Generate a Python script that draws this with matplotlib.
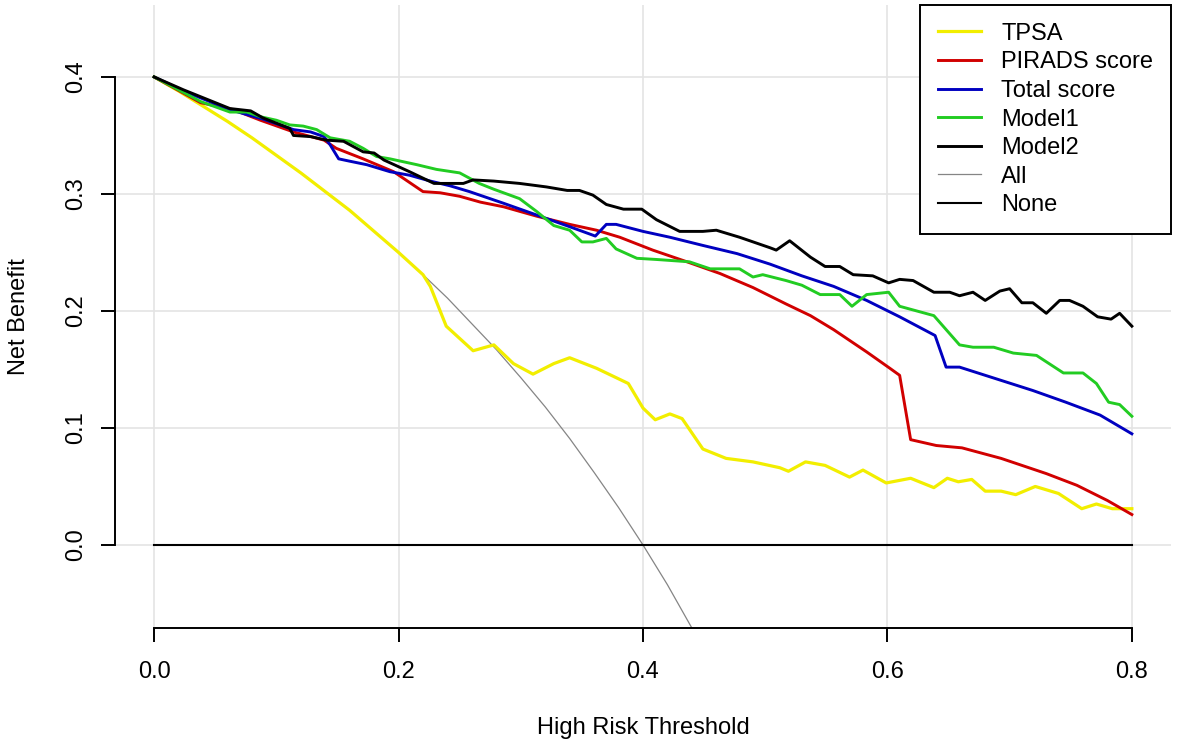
import numpy as np
import matplotlib.pyplot as plt

plt.rcParams['font.family'] = ['Liberation Sans', 'DejaVu Sans']

# values
tpsa_x = [0.0, 0.02, 0.04, 0.06, 0.08, 0.10, 0.12, 0.14, 0.16, 0.18, 0.20, 0.22, 0.226,
          0.239, 0.261, 0.278, 0.294, 0.310, 0.327, 0.340, 0.362, 0.388, 0.400,
          0.410, 0.422, 0.432, 0.449, 0.468, 0.490, 0.512, 0.519, 0.533, 0.549,
          0.569, 0.580, 0.599, 0.619, 0.638, 0.649, 0.658, 0.669, 0.680, 0.693,
          0.705, 0.721, 0.740, 0.759, 0.771, 0.784, 0.800]
tpsa_y = [0.400, 0.388, 0.375, 0.362, 0.348, 0.333, 0.318, 0.302, 0.286, 0.268, 0.250, 0.231, 0.221,
          0.187, 0.166, 0.171, 0.155, 0.146, 0.155, 0.160, 0.151, 0.138, 0.117,
          0.107, 0.112, 0.108, 0.082, 0.074, 0.071, 0.066, 0.063, 0.071, 0.068,
          0.058, 0.064, 0.053, 0.057, 0.049, 0.057, 0.054, 0.056, 0.046, 0.046,
          0.043, 0.050, 0.044, 0.031, 0.035, 0.031, 0.031]

pirads_x = [0.0, 0.038, 0.065, 0.087, 0.114, 0.139, 0.149, 0.171, 0.196, 0.220, 0.234,
            0.250, 0.267, 0.286, 0.313, 0.340, 0.362, 0.381, 0.408, 0.436, 0.463,
            0.490, 0.517, 0.537, 0.556, 0.583, 0.602, 0.610, 0.619, 0.640, 0.661,
            0.693, 0.730, 0.755, 0.780, 0.800]
pirads_y = [0.400, 0.378, 0.372, 0.363, 0.353, 0.346, 0.339, 0.330, 0.319, 0.302, 0.301,
            0.298, 0.293, 0.289, 0.281, 0.274, 0.269, 0.263, 0.252, 0.242, 0.232,
            0.220, 0.206, 0.196, 0.184, 0.165, 0.151, 0.145, 0.090, 0.085, 0.083,
            0.074, 0.061, 0.051, 0.038, 0.026]

total_x = [0.0, 0.024, 0.062, 0.089, 0.114, 0.128, 0.139, 0.144, 0.151, 0.160, 0.174,
           0.193, 0.209, 0.226, 0.242, 0.258, 0.286, 0.313, 0.340, 0.361, 0.370,
           0.378, 0.400, 0.422, 0.449, 0.477, 0.504, 0.530, 0.556, 0.583, 0.610,
           0.639, 0.648, 0.659, 0.692, 0.719, 0.746, 0.774, 0.800]
total_y = [0.400, 0.388, 0.372, 0.364, 0.355, 0.353, 0.349, 0.342, 0.330, 0.328, 0.325,
           0.319, 0.316, 0.311, 0.307, 0.302, 0.292, 0.282, 0.272, 0.264, 0.274,
           0.274, 0.268, 0.263, 0.256, 0.249, 0.240, 0.230, 0.221, 0.209, 0.195,
           0.179, 0.152, 0.152, 0.141, 0.132, 0.122, 0.111, 0.095]

model1_x = [0.0, 0.038, 0.062, 0.076, 0.087, 0.100, 0.111, 0.122, 0.133, 0.144, 0.160,
            0.171, 0.182, 0.193, 0.215, 0.231, 0.250, 0.266, 0.278, 0.299, 0.313,
            0.327, 0.340, 0.350, 0.359, 0.370, 0.378, 0.395, 0.411, 0.438, 0.455,
            0.479, 0.490, 0.498, 0.517, 0.530, 0.545, 0.561, 0.571, 0.583, 0.601,
            0.610, 0.638, 0.659, 0.670, 0.687, 0.703, 0.722, 0.744, 0.760, 0.771,
            0.781, 0.790, 0.800]
model1_y = [0.400, 0.379, 0.370, 0.370, 0.366, 0.363, 0.359, 0.358, 0.355, 0.348, 0.345,
            0.339, 0.332, 0.330, 0.325, 0.321, 0.318, 0.309, 0.304, 0.296, 0.285,
            0.273, 0.269, 0.259, 0.259, 0.262, 0.253, 0.245, 0.244, 0.242, 0.236,
            0.236, 0.229, 0.231, 0.226, 0.222, 0.214, 0.214, 0.204, 0.214, 0.216,
            0.204, 0.196, 0.171, 0.169, 0.169, 0.164, 0.162, 0.147, 0.147, 0.138,
            0.122, 0.120, 0.110]

model2_x = [0.0, 0.024, 0.062, 0.079, 0.089, 0.111, 0.114, 0.128, 0.141, 0.155, 0.171,
            0.180, 0.188, 0.209, 0.229, 0.253, 0.261, 0.278, 0.299, 0.321, 0.338,
            0.348, 0.359, 0.370, 0.384, 0.399, 0.411, 0.430, 0.449, 0.460, 0.479,
            0.504, 0.509, 0.520, 0.537, 0.549, 0.561, 0.572, 0.588, 0.601, 0.610,
            0.621, 0.638, 0.651, 0.659, 0.670, 0.680, 0.692, 0.700, 0.710, 0.719,
            0.730, 0.741, 0.749, 0.760, 0.772, 0.783, 0.790, 0.800]
model2_y = [0.400, 0.389, 0.373, 0.371, 0.365, 0.356, 0.350, 0.349, 0.346, 0.345, 0.336,
            0.335, 0.329, 0.319, 0.309, 0.309, 0.312, 0.311, 0.309, 0.306, 0.303,
            0.303, 0.299, 0.291, 0.287, 0.287, 0.278, 0.268, 0.268, 0.269, 0.263,
            0.254, 0.252, 0.260, 0.246, 0.238, 0.238, 0.231, 0.230, 0.224, 0.227,
            0.226, 0.216, 0.216, 0.213, 0.216, 0.209, 0.217, 0.219, 0.207, 0.207,
            0.198, 0.209, 0.209, 0.204, 0.195, 0.193, 0.198, 0.187]

all_x = [0.0, 0.02, 0.04, 0.06, 0.08, 0.10, 0.12, 0.14, 0.16, 0.18, 0.20, 0.22,
         0.24, 0.26, 0.28, 0.30, 0.32, 0.34, 0.36, 0.38, 0.40, 0.42, 0.44, 0.46]
all_y = [0.400, 0.388, 0.375, 0.362, 0.348, 0.333, 0.318, 0.302, 0.286, 0.268, 0.250,
         0.231, 0.211, 0.189, 0.167, 0.143, 0.118, 0.091, 0.062, 0.032, 0.000,
         -0.034, -0.071, -0.111]

none_x = [0.0, 0.8]
none_y = [0.0, 0.0]

fig = plt.figure(figsize=(11.81, 7.45), dpi=100)
ax = fig.add_axes([0.0974, 0.157, 0.8941, 0.8363])

ax.plot(all_x, all_y, color='#858585', lw=0.9, label='All', zorder=2)
ax.plot(none_x, none_y, color='black', lw=1.5, label='None', zorder=2)
ax.plot(tpsa_x, tpsa_y, color='#f2ee00', lw=2.3, label='TPSA', zorder=3)
ax.plot(pirads_x, pirads_y, color='#d10000', lw=2.1, label='PIRADS score', zorder=3)
ax.plot(total_x, total_y, color='#0000c0', lw=2.1, label='Total score', zorder=3)
ax.plot(model1_x, model1_y, color='#22cc22', lw=2.1, label='Model1', zorder=3)
ax.plot(model2_x, model2_y, color='black', lw=2.1, label='Model2', zorder=3)

ax.set_xlim(-0.032, 0.832)
ax.set_ylim(-0.071, 0.4615)
ax.set_xticks([0.0, 0.2, 0.4, 0.6, 0.8])
ax.set_yticks([0.0, 0.1, 0.2, 0.3, 0.4])
ax.set_xticklabels(['0.0', '0.2', '0.4', '0.6', '0.8'])
ax.set_yticklabels(['0.0', '0.1', '0.2', '0.3', '0.4'], rotation=90, va='center')
ax.grid(True, color='#e4e4e4', lw=1.2, zorder=0)
ax.set_axisbelow(True)

for s in ['top', 'right']:
    ax.spines[s].set_visible(False)
ax.spines['left'].set_bounds(0.0, 0.4)
ax.spines['bottom'].set_bounds(0.0, 0.8)
ax.spines['left'].set_linewidth(1.4)
ax.spines['bottom'].set_linewidth(1.4)
ax.tick_params(axis='both', length=10, width=1.4, labelsize=17, direction='out')
ax.tick_params(axis='x', pad=14)
ax.tick_params(axis='y', pad=10)

ax.set_xlabel('High Risk Threshold', fontsize=17, va='center')
ax.xaxis.set_label_coords(0.5, -0.1605)
ax.set_ylabel('Net Benefit', fontsize=17, va='center')
ax.yaxis.set_label_coords(-0.091, 0.5)

handles, labels = ax.get_legend_handles_labels()
order = ['TPSA', 'PIRADS score', 'Total score', 'Model1', 'Model2', 'All', 'None']
hmap = dict(zip(labels, handles))
leg = ax.legend([hmap[k] for k in order], order, loc='upper right',
                bbox_to_anchor=(1.0, 1.0), borderaxespad=0, fontsize=17,
                fancybox=False, framealpha=1, edgecolor='black',
                handlelength=1.85, handletextpad=0.85, labelspacing=0.28,
                borderpad=0.75)
leg.get_frame().set_linewidth(1.4)

fig.savefig('out.png', dpi=100)
